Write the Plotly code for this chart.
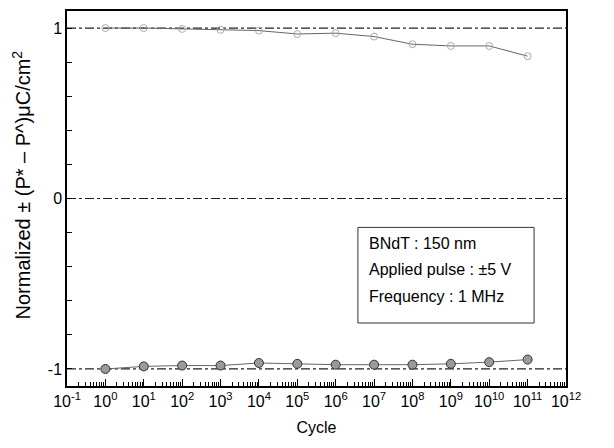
import plotly.graph_objects as go

cycles = [1e0, 1e1, 1e2, 1e3, 1e4, 1e5, 1e6, 1e7, 1e8, 1e9, 1e10, 1e11]
pos_norm = [1.0, 1.0, 0.995, 0.99, 0.985, 0.965, 0.97, 0.95, 0.905, 0.895, 0.895, 0.835]
neg_norm = [-1.0, -0.985, -0.98, -0.98, -0.965, -0.97, -0.975, -0.975, -0.975, -0.97, -0.96, -0.945]
ref_levels = [1, 0, -1]
x_exponents = list(range(-1, 13))
y_ticks = [-1, 0, 1]
info_lines = ["BNdT : 150 nm", "Applied pulse : ±5 V", "Frequency : 1 MHz"]
y_title = "Normalized ± (P* – P^)μC/cm<sup>2</sup>"

FONT = "Liberation Sans, Arial, sans-serif"

fig = go.Figure()

for lv in ref_levels:
    fig.add_trace(go.Scatter(
        x=[10 ** x_exponents[0], 10 ** x_exponents[-1]], y=[lv, lv],
        mode="lines", line=dict(color="#222222", width=1.2, dash="dashdot"),
        hoverinfo="skip", showlegend=False))

fig.add_trace(go.Scatter(
    x=cycles, y=pos_norm, mode="lines+markers",
    line=dict(color="#666666", width=1),
    marker=dict(symbol="circle-open", size=7, color="#aaaaaa", line=dict(width=1)),
    showlegend=False))

fig.add_trace(go.Scatter(
    x=cycles, y=neg_norm, mode="lines+markers",
    line=dict(color="#666666", width=1),
    marker=dict(symbol="circle", size=9, color="#9a9a9a",
                line=dict(color="#333333", width=1)),
    showlegend=False))

minor_x = [m * 10 ** e for e in x_exponents[:-1] for m in range(2, 10)]

fig.update_xaxes(
    type="log", range=[x_exponents[0], x_exponents[-1]],
    tickmode="array",
    tickvals=[10 ** e for e in x_exponents],
    ticktext=[f"10<sup>{e}</sup>" for e in x_exponents],
    ticks="inside", ticklen=7, tickwidth=1.2, tickcolor="#000",
    minor=dict(tickmode="array", tickvals=minor_x, ticks="inside",
               ticklen=4, tickwidth=1, tickcolor="#000"),
    showline=True, linecolor="#000", linewidth=1.5, mirror=True,
    showgrid=False, zeroline=False,
    tickfont=dict(family=FONT, size=16, color="#000"),
    title=dict(text="Cycle", font=dict(family=FONT, size=16, color="#000"), standoff=13),
)

fig.update_yaxes(
    range=[-1.1, 1.1],
    tickmode="array", tickvals=y_ticks, ticktext=[str(v) for v in y_ticks],
    ticks="inside", ticklen=5, tickwidth=1.2, tickcolor="#000",
    minor=dict(dtick=0.2, tick0=0, ticks="inside", ticklen=5, tickwidth=1, tickcolor="#000"),
    showline=True, linecolor="#000", linewidth=1.5, mirror=True,
    showgrid=False, zeroline=False,
    tickfont=dict(family=FONT, size=16, color="#000"),
)

fig.add_annotation(
    x=-0.092, y=0.535, xref="paper", yref="paper",
    xanchor="center", yanchor="middle", textangle=-90,
    text=y_title, showarrow=False,
    font=dict(family=FONT, size=20, color="#000"),
)

# framed info box
fig.add_shape(type="rect", xref="paper", yref="paper",
              x0=0.583, x1=0.936, y0=0.168, y1=0.423,
              line=dict(color="#333", width=1), fillcolor="white", layer="above")
for i, line_txt in enumerate(info_lines):
    fig.add_annotation(
        x=0.601, y=0.380 - i * 0.0705, xref="paper", yref="paper",
        xanchor="left", yanchor="middle", align="left",
        text=line_txt, showarrow=False,
        font=dict(family=FONT, size=16, color="#000"),
    )

fig.update_layout(
    width=606, height=440,
    margin=dict(l=59, r=48, t=1, b=62),
    paper_bgcolor="white", plot_bgcolor="white",
    font=dict(family=FONT),
)

fig.write_html("out.html")
